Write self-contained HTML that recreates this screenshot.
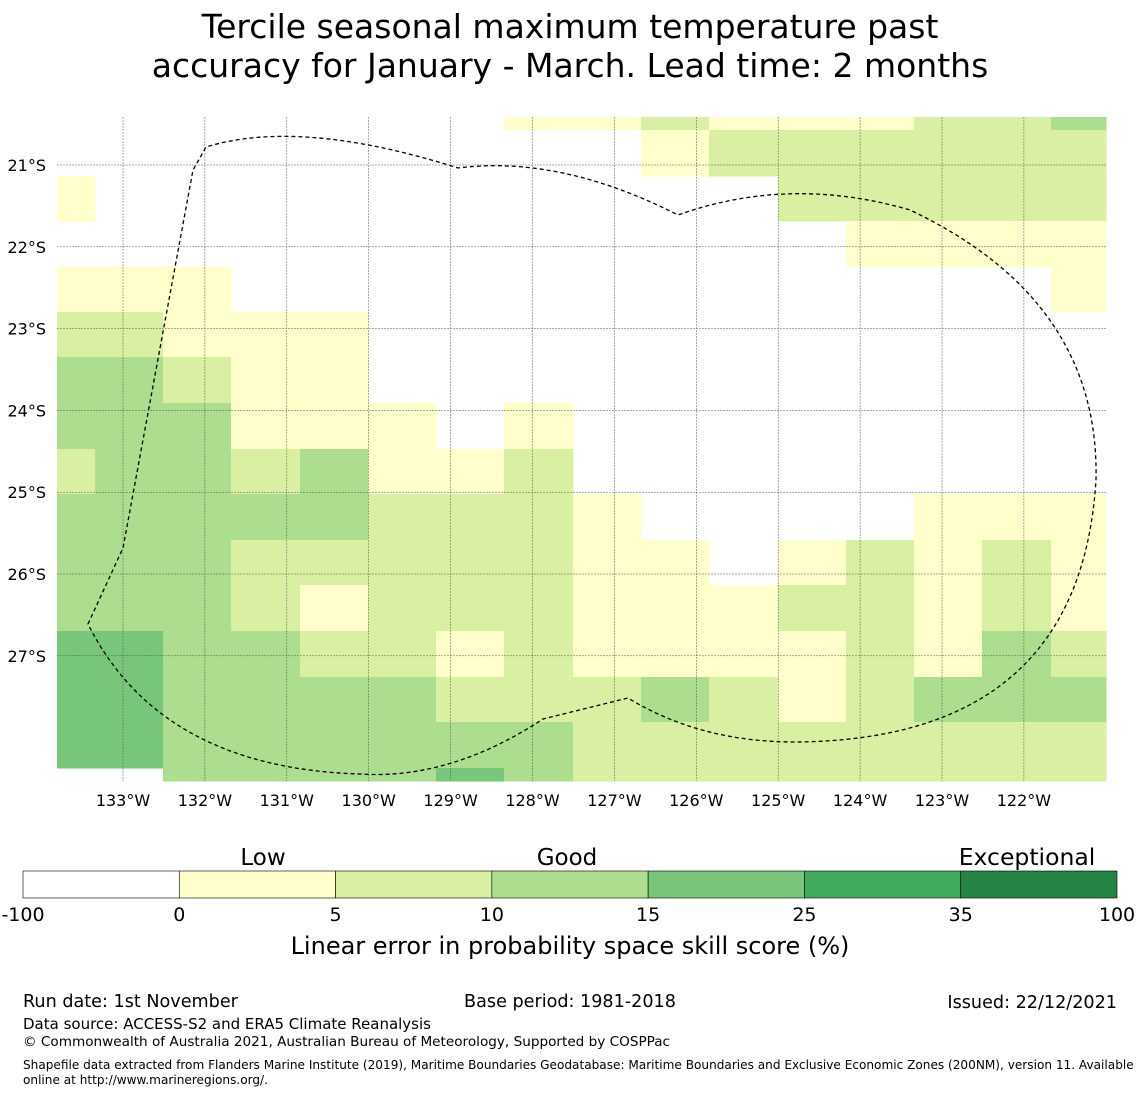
<!DOCTYPE html>
<html><head><meta charset="utf-8"><style>
body{margin:0;background:#fff;font-family:"Liberation Sans","DejaVu Sans",sans-serif;}
</style></head><body>
<svg width="1140" height="1095" xmlns="http://www.w3.org/2000/svg" font-family="DejaVu Sans, Liberation Sans, sans-serif">
<text x="570" y="38" font-size="33" text-anchor="middle">Tercile seasonal maximum temperature past</text>
<text x="570" y="77" font-size="33" text-anchor="middle">accuracy for January - March. Lead time: 2 months</text>
<g id="cells"></g>
<g id="grid"></g>
<path d="M88,624 L123,548 L193,170 L206,147 Q300,118 458,168 Q560,155 678,215 Q790,175 910,210 Q1100,300 1096,480 Q1080,740 795,742 Q700,742 628,698 L543,719 Q450,780 360,774 Q160,768 88,624 Z" fill="none" stroke="#000" stroke-width="1.3" stroke-dasharray="4,3"/>
<g id="labels" font-size="16"></g>
<g id="cbar"></g>
<text x="263" y="865" font-size="23" text-anchor="middle">Low</text>
<text x="567" y="865" font-size="23" text-anchor="middle">Good</text>
<text x="1027" y="865" font-size="23.5" text-anchor="middle">Exceptional</text>
<text x="570" y="954" font-size="24" text-anchor="middle">Linear error in probability space skill score (%)</text>
<text x="23" y="1007" font-size="17.6">Run date: 1st November</text>
<text x="570" y="1007" font-size="17.6" text-anchor="middle">Base period: 1981-2018</text>
<text x="1117" y="1008" font-size="17.6" text-anchor="end">Issued: 22/12/2021</text>
<text x="23" y="1029" font-size="15">Data source: ACCESS-S2 and ERA5 Climate Reanalysis</text>
<text x="23" y="1046" font-size="13.6">© Commonwealth of Australia 2021, Australian Bureau of Meteorology, Supported by COSPPac</text>
<text x="23" y="1069" font-size="12.1">Shapefile data extracted from Flanders Marine Institute (2019), Maritime Boundaries Geodatabase: Maritime Boundaries and Exclusive Economic Zones (200NM), version 11. Available</text>
<text x="23" y="1084" font-size="12.1">online at http://www.marineregions.org/.</text>
</svg>
<script>
const palette=["#ffffff","#ffffcc","#d9f0a3","#addd8e","#78c679","#41ab5d","#238443"];
const colEdges=[57,95,163,231,300,368,436,504,573,641,709,778,846,914,982,1051,1106];
const rowEdges=[117,130,176,221,267,312,357,403,449,494,540,585,631,677,722,768,781];
const skillClass=[
[0,0,0,0,0,0,0,1,1,2,1,1,1,2,2,3],
[0,0,0,0,0,0,0,0,0,1,2,2,2,2,2,2],
[1,0,0,0,0,0,0,0,0,0,0,2,2,2,2,2],
[0,0,0,0,0,0,0,0,0,0,0,0,1,1,1,1],
[1,1,1,0,0,0,0,0,0,0,0,0,0,0,0,1],
[2,2,1,1,1,0,0,0,0,0,0,0,0,0,0,0],
[3,3,2,1,1,0,0,0,0,0,0,0,0,0,0,0],
[3,3,3,1,1,1,0,1,0,0,0,0,0,0,0,0],
[2,3,3,2,3,1,1,2,0,0,0,0,0,0,0,0],
[3,3,3,3,3,2,2,2,1,0,0,0,0,1,1,1],
[3,3,3,2,2,2,2,2,1,1,0,1,2,1,2,1],
[3,3,3,2,1,2,2,2,1,1,1,2,2,1,2,1],
[4,4,3,3,2,2,1,2,1,1,1,1,2,1,3,2],
[4,4,3,3,3,3,2,2,2,3,2,1,2,3,3,3],
[4,4,3,3,3,3,3,3,2,2,2,2,2,2,2,2],
[0,0,3,3,3,3,4,3,2,2,2,2,2,2,2,2]];
const lonTicks=["133°W","132°W","131°W","130°W","129°W","128°W","127°W","126°W","125°W","124°W","123°W","122°W"];
const latTicks=["21°S","22°S","23°S","24°S","25°S","26°S","27°S"];
const cbarTicks=["-100","0","5","10","15","25","35","100"];
const NS="http://www.w3.org/2000/svg";
const xLon=i=>123+i*81.9, yLat=i=>165+i*81.8;
const cells=document.getElementById('cells');
skillClass.forEach((row,r)=>row.forEach((v,c)=>{
 if(!v)return;
 const e=document.createElementNS(NS,'rect');
 e.setAttribute('x',colEdges[c]);e.setAttribute('y',rowEdges[r]);
 e.setAttribute('width',colEdges[c+1]-colEdges[c]+0.5);e.setAttribute('height',rowEdges[r+1]-rowEdges[r]+0.5);
 e.setAttribute('fill',palette[v]);
 
 
 cells.appendChild(e);
}));
const grid=document.getElementById('grid'),labels=document.getElementById('labels');
lonTicks.forEach((t,i)=>{
 const l=document.createElementNS(NS,'line');
 l.setAttribute('x1',xLon(i));l.setAttribute('x2',xLon(i));l.setAttribute('y1',117);l.setAttribute('y2',781);
 l.setAttribute('stroke','#555');l.setAttribute('stroke-width','0.5');l.setAttribute('stroke-dasharray','2,1');
 
 
 grid.appendChild(l);
 const s=document.createElementNS(NS,'text');
 s.setAttribute('x',xLon(i));s.setAttribute('y',806);s.setAttribute('text-anchor','middle');s.textContent=t;
 
 
 labels.appendChild(s);
});
latTicks.forEach((t,i)=>{
 const l=document.createElementNS(NS,'line');
 l.setAttribute('x1',57);l.setAttribute('x2',1106);l.setAttribute('y1',yLat(i));l.setAttribute('y2',yLat(i));
 l.setAttribute('stroke','#555');l.setAttribute('stroke-width','0.5');l.setAttribute('stroke-dasharray','2,1');
 
 
 grid.appendChild(l);
 const s=document.createElementNS(NS,'text');
 s.setAttribute('x',46);s.setAttribute('y',yLat(i)+6);s.setAttribute('text-anchor','end');s.textContent=t;
 
 
 labels.appendChild(s);
});
const cb=document.getElementById('cbar'),cw=(1117-23)/7;
for(let i=0;i<7;i++){
 const e=document.createElementNS(NS,'rect');
 e.setAttribute('x',23+i*cw);e.setAttribute('y',871);e.setAttribute('width',cw);e.setAttribute('height',27);
 e.setAttribute('fill',palette[i]);e.setAttribute('stroke','#000');e.setAttribute('stroke-width','0.6');
 
 
 cb.appendChild(e);
}
cbarTicks.forEach((t,i)=>{
 const s=document.createElementNS(NS,'text');
 s.setAttribute('x',23+i*cw);s.setAttribute('y',921);s.setAttribute('text-anchor','middle');s.setAttribute('font-size','19');s.textContent=t;
 
 
 cb.appendChild(s);
});
</script>
</body></html>
